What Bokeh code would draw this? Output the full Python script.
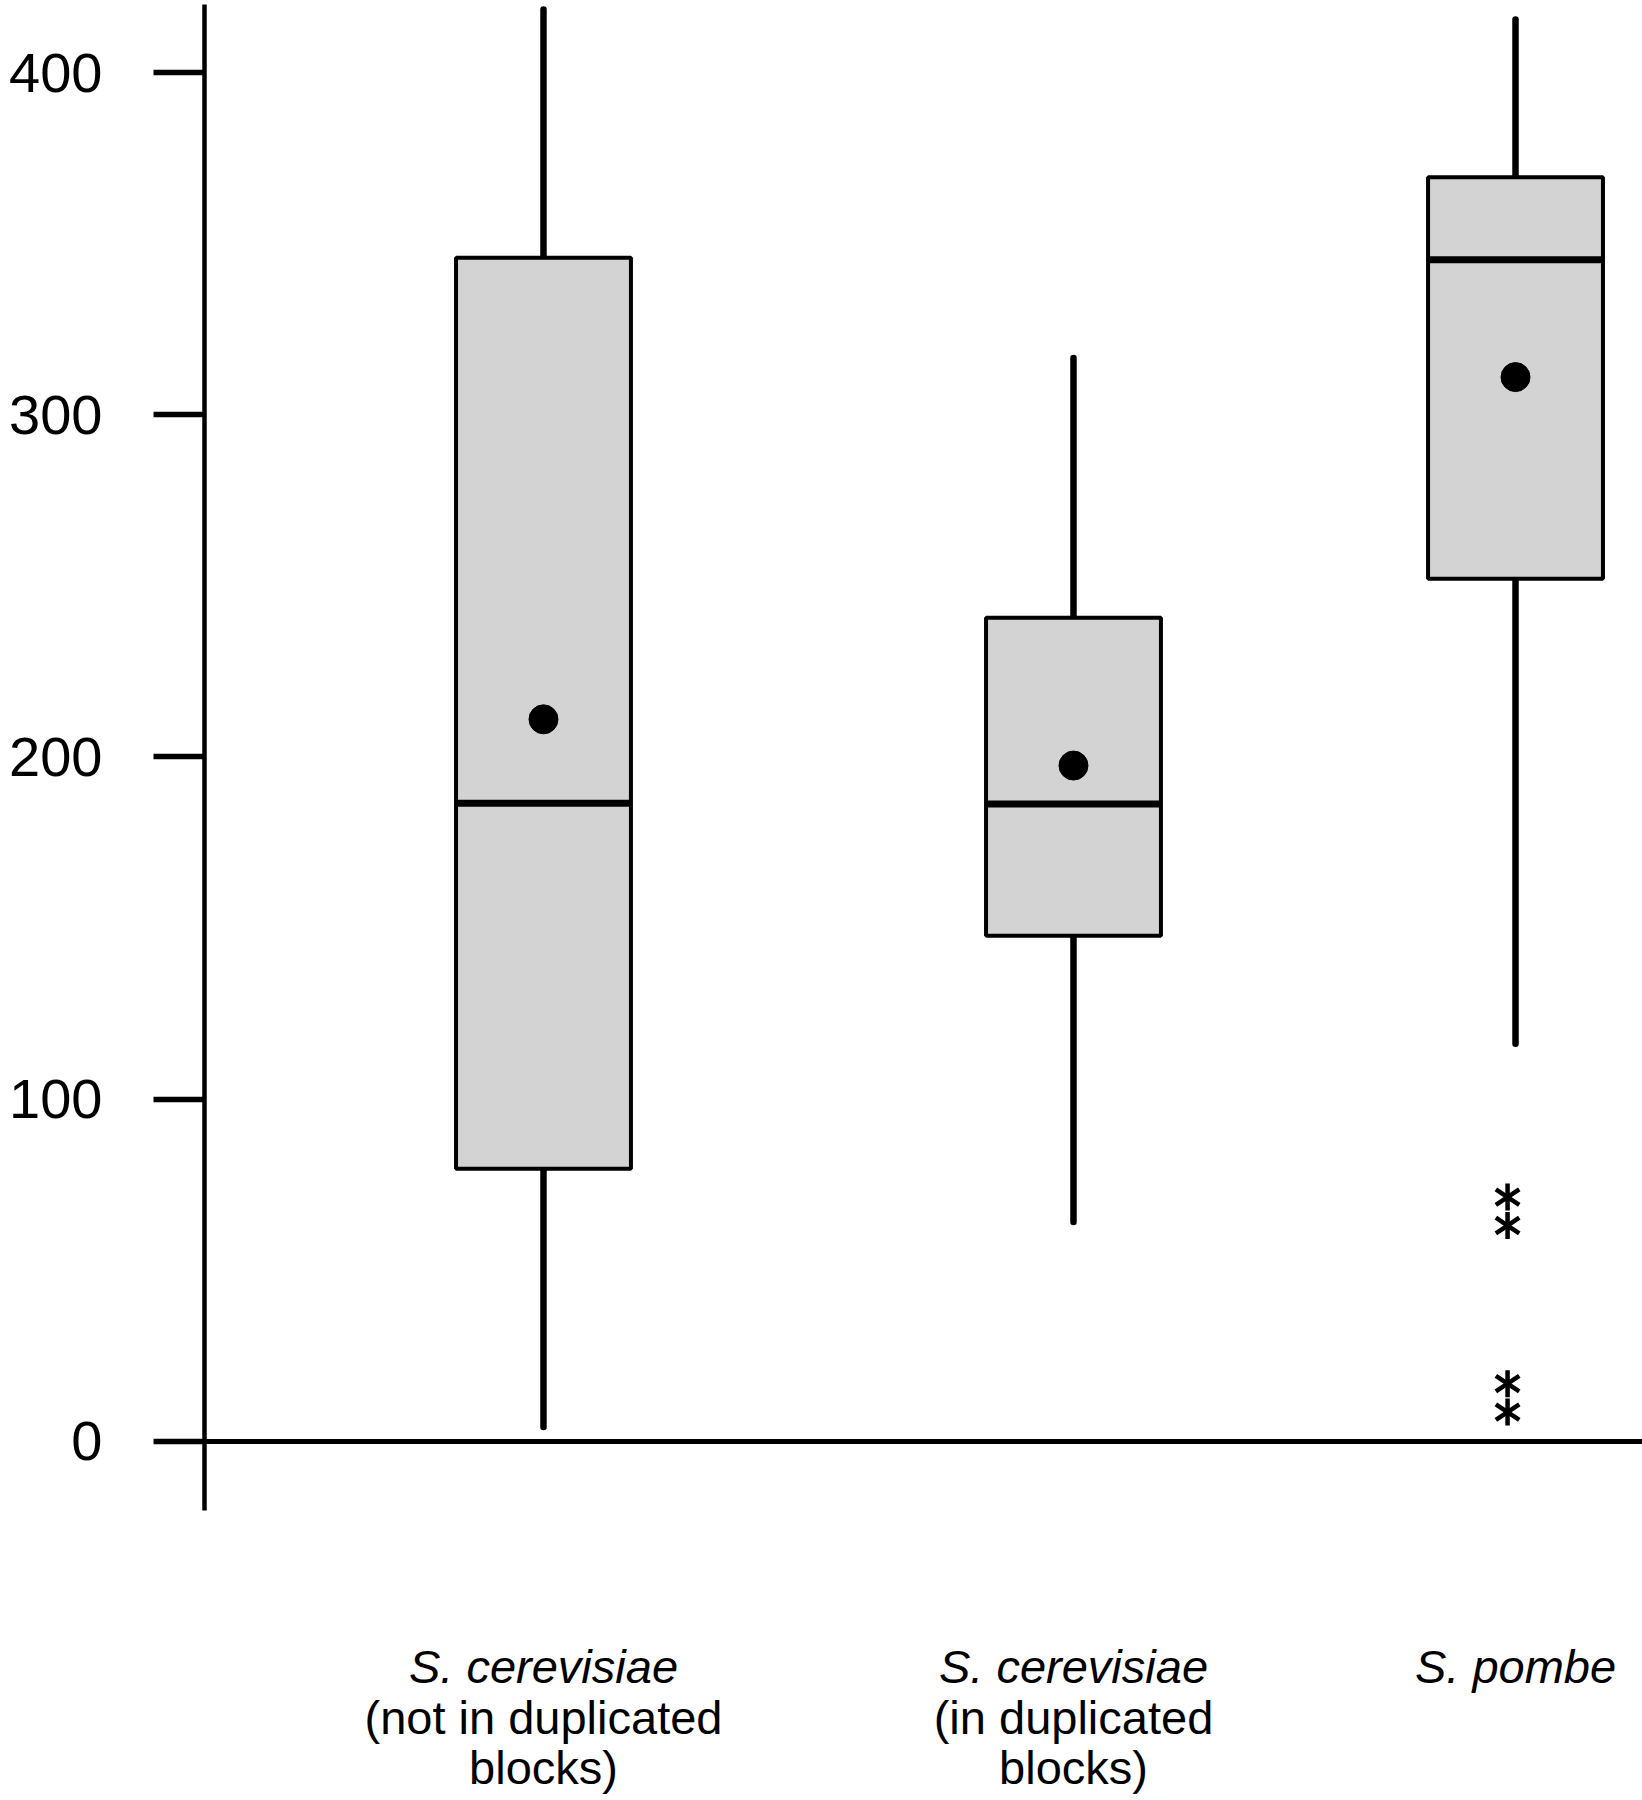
from bokeh.plotting import figure
from bokeh.models import Range1d, LinearAxis, FixedTicker, ColumnDataSource, Span
from bokeh.embed import file_html
from bokeh.resources import INLINE
from bokeh.core.properties import value

# ---- data ----
species = ["S. cerevisiae", "S. cerevisiae", "S. pombe"]
subtitle_line1 = ["(not in duplicated", "(in duplicated", ""]
subtitle_line2 = ["blocks)", "blocks)", ""]
whisker_low = [4.2, 64.1, 116.2]
q1 = [79.7, 147.8, 252.1]
median = [186.5, 186.3, 345.3]
q3 = [345.9, 240.7, 369.4]
whisker_high = [418.4, 316.6, 415.5]
mean = [211.0, 197.5, 311.0]
outlier_group = [3, 3, 3, 3]          # 1-based group index
outlier_values = [71.4, 63.1, 16.9, 8.6]
y_ticks = [0, 100, 200, 300, 400]

# ---- layout / style ----
group_pos = [1.0, 2.0, 2.834]
box_w = 0.33
FONT = "Liberation Sans"

p = figure(width=1642, height=1800,
           x_range=Range1d(0.3604, 3.0736), y_range=Range1d(-104.9, 421.04),
           x_axis_type=None, y_axis_type=None,
           toolbar_location=None, output_backend="svg",
           min_border_left=204, min_border_right=0,
           min_border_top=0, min_border_bottom=0)
p.outline_line_color = None
p.background_fill_color = "white"
p.border_fill_color = "white"

src = ColumnDataSource(dict(
    x=group_pos,
    x0=[g - box_w / 2 for g in group_pos],
    x1=[g + box_w / 2 for g in group_pos],
    lo=whisker_low, q1=q1, med=median, q3=q3, hi=whisker_high, mean=mean,
    sp=species, s1=subtitle_line1, s2=subtitle_line2,
))

# whiskers
p.segment(x0="x", y0="q3", x1="x", y1="hi", source=src,
          line_color="black", line_width=6.5, line_cap="round")
p.segment(x0="x", y0="q1", x1="x", y1="lo", source=src,
          line_color="black", line_width=6.5, line_cap="round")
# boxes
p.vbar(x="x", width=box_w, bottom="q1", top="q3", source=src,
       fill_color="#d3d3d3", line_color="black", line_width=4)
# medians
p.segment(x0="x0", y0="med", x1="x1", y1="med", source=src,
          line_color="black", line_width=7)
# means
p.scatter(x="x", y="mean", source=src, marker="circle", size=29,
          fill_color="black", line_color="black")

# outliers as asterisks
ox = [group_pos[g - 1] - 0.015 for g in outlier_group]
osrc = ColumnDataSource(dict(x=ox, y=outlier_values))
for ang in (0.0, 3.14159265):
    p.scatter(x="x", y="y", source=osrc, marker="y", size=27, angle=ang,
              line_color="black", line_width=4.5)

# zero line
p.add_layout(Span(location=0, dimension="width", line_color="black", line_width=5))

# y axis
yaxis = LinearAxis(ticker=FixedTicker(ticks=y_ticks), bounds=(-20.2, 419.9))
yaxis.axis_line_width = 4.5
yaxis.axis_line_color = "black"
yaxis.major_tick_line_width = 5.5
yaxis.major_tick_line_color = "black"
yaxis.major_tick_out = 51
yaxis.major_tick_in = 0
yaxis.minor_tick_line_color = None
yaxis.major_label_text_font_size = "56px"
yaxis.major_label_text_font = FONT
yaxis.major_label_text_color = "black"
yaxis.major_label_standoff = 51
p.add_layout(yaxis, "left")

# category labels
p.text(x="x", y=0, text="sp", source=src, y_offset=225,
       text_font=value(FONT), text_font_size="47px", text_font_style="italic",
       text_align="center", text_baseline="alphabetic", text_color="black")
p.text(x="x", y=0, text="s1", source=src, y_offset=276,
       text_font=value(FONT), text_font_size="47px",
       text_align="center", text_baseline="alphabetic", text_color="black")
p.text(x="x", y=0, text="s2", source=src, y_offset=326,
       text_font=value(FONT), text_font_size="47px",
       text_align="center", text_baseline="alphabetic", text_color="black")

open("out.html", "w").write(file_html(p, INLINE))
